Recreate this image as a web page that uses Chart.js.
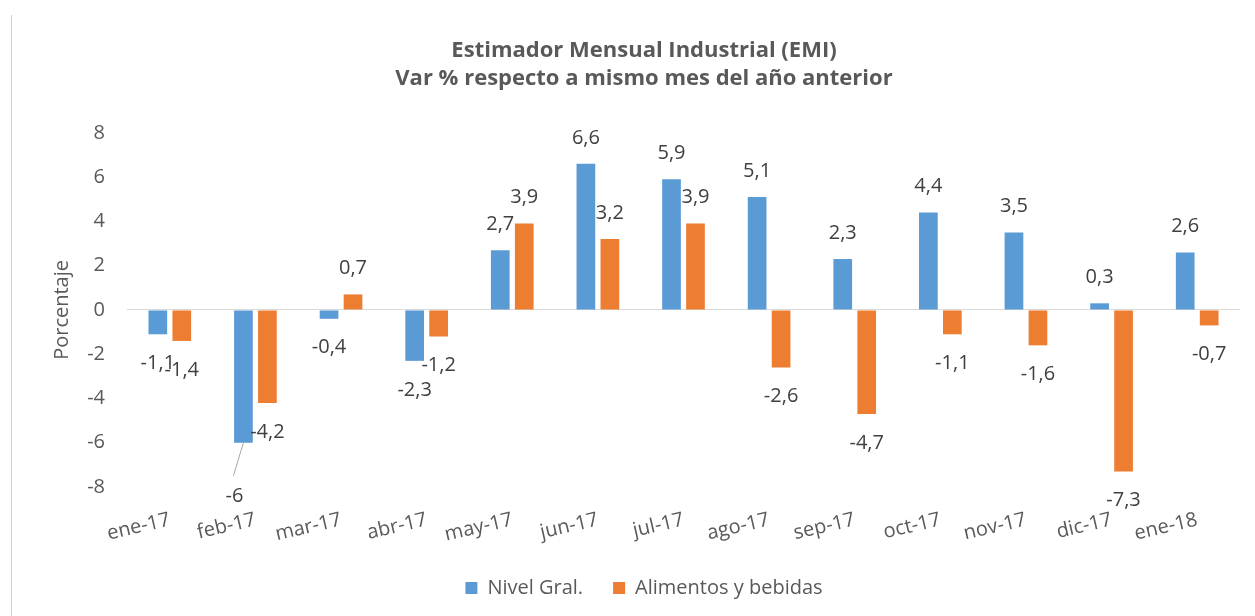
<!DOCTYPE html>
<html>
<head>
<meta charset="utf-8">
<script src="https://cdn.jsdelivr.net/npm/chart.js@4/dist/chart.umd.min.js"></script>
<style>
  html, body { margin: 0; padding: 0; background: #fff; }
  #wrap { position: relative; width: 1255px; height: 616px; }
</style>
</head>
<body>
<div id="wrap"><canvas id="emiChart" width="1255" height="616"></canvas></div>
<script>
// Data
var categories = ['ene-17', 'feb-17', 'mar-17', 'abr-17', 'may-17', 'jun-17', 'jul-17',
                  'ago-17', 'sep-17', 'oct-17', 'nov-17', 'dic-17', 'ene-18'];
var nivelGral = [-1.1, -6, -0.4, -2.3, 2.7, 6.6, 5.9, 5.1, 2.3, 4.4, 3.5, 0.3, 2.6];
var alimentosBebidas = [-1.4, -4.2, 0.7, -1.2, 3.9, 3.2, 3.9, -2.6, -4.7, -1.1, -1.6, -7.3, -0.7];
var yMin = -8, yMax = 8, yStep = 2;

var FONT = '"Open Sans", "DejaVu Sans", sans-serif';
var TEXT_GREY = '#595959';

function fmt(v) {
    return String(v).replace('.', ',');
}

// Draws the value labels outside the bar ends, like Excel's "outside end"
var valueLabels = {
    id: 'valueLabels',
    afterDatasetsDraw: function(chart) {
        var ctx = chart.ctx;
        ctx.save();
        ctx.font = '20px ' + FONT;
        ctx.fillStyle = '#404040';
        ctx.textAlign = 'center';
        ctx.textBaseline = 'middle';
        chart.data.datasets.forEach(function(ds, di) {
            var meta = chart.getDatasetMeta(di);
            meta.data.forEach(function(bar, i) {
                var v = ds.data[i];
                var x = bar.x;
                var y = v >= 0 ? bar.y - 26 : bar.y + 29;
                // the -6 label of feb-17 was pulled down with a leader line
                if (di === 0 && i === 1) {
                    ctx.strokeStyle = '#a6a6a6';
                    ctx.lineWidth = 1;
                    ctx.beginPath();
                    ctx.moveTo(bar.x, bar.y);
                    ctx.lineTo(bar.x - 10, bar.y + 33);
                    ctx.stroke();
                    x = bar.x - 9;
                    y = bar.y + 54;
                }
                ctx.fillText(fmt(v), x, y);
            });
        });
        ctx.restore();
    }
};

// Thin frame edge on the left of the picture
var frameEdge = {
    id: 'frameEdge',
    beforeDraw: function(chart) {
        var ctx = chart.ctx;
        ctx.save();
        ctx.strokeStyle = '#d0d0d0';
        ctx.lineWidth = 1;
        ctx.beginPath();
        ctx.moveTo(11.5, 15);
        ctx.lineTo(11.5, 616);
        ctx.stroke();
        ctx.restore();
    }
};

var ctx = document.getElementById('emiChart').getContext('2d');
var emiChart = new Chart(ctx, {
    type: 'bar',
    data: {
        labels: categories,
        datasets: [{
            label: 'Nivel Gral.',
            data: nivelGral,
            backgroundColor: '#5B9BD5',
            categoryPercentage: 0.56,
            barPercentage: 0.78
        }, {
            label: 'Alimentos y bebidas',
            data: alimentosBebidas,
            backgroundColor: '#ED7D31',
            categoryPercentage: 0.56,
            barPercentage: 0.78
        }]
    },
    options: {
        responsive: false,
        animation: false,
        layout: {
            padding: { top: 15, left: 48, right: 15, bottom: 8 }
        },
        plugins: {
            tooltip: { enabled: false },
            title: {
                display: true,
                text: ['Estimador Mensual Industrial (EMI)', 'Var % respecto a mismo mes del año anterior'],
                color: TEXT_GREY,
                font: { family: FONT, size: 22, weight: 'bold', lineHeight: 1.27 },
                padding: { top: 22, bottom: 40 }
            },
            legend: {
                position: 'bottom',
                labels: {
                    color: TEXT_GREY,
                    font: { family: FONT, size: 20 },
                    boxWidth: 12,
                    boxHeight: 12,
                    padding: 30
                }
            }
        },
        scales: {
            x: {
                grid: { display: false },
                border: { display: false },
                ticks: {
                    color: TEXT_GREY,
                    font: { family: FONT, size: 20 },
                    minRotation: 13,
                    maxRotation: 13,
                    padding: 13
                },
                afterFit: function(scale) { scale.height = 61; }
            },
            y: {
                min: yMin,
                max: yMax,
                border: { display: false },
                grid: {
                    drawTicks: false,
                    color: function(c) { return c.tick && c.tick.value === 0 ? '#d9d9d9' : 'rgba(0,0,0,0)'; }
                },
                ticks: {
                    stepSize: yStep,
                    color: TEXT_GREY,
                    font: { family: FONT, size: 20 },
                    padding: 22
                },
                title: {
                    display: true,
                    text: 'Porcentaje',
                    color: TEXT_GREY,
                    font: { family: FONT, size: 20 },
                    padding: { top: 2, bottom: 0 }
                },
                afterFit: function(scale) { scale.width = 79; }
            }
        }
    },
    plugins: [valueLabels, frameEdge]
});
</script>
</body>
</html>
